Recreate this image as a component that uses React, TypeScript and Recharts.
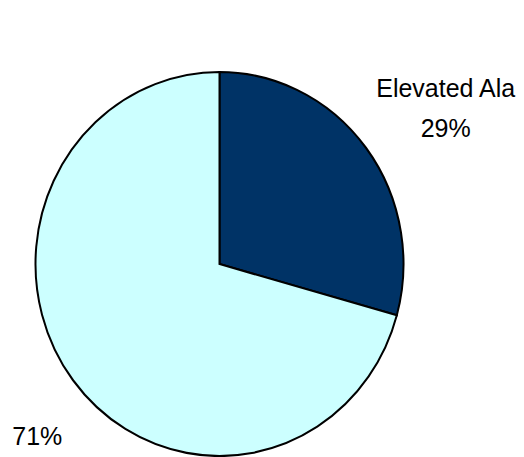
import React from "react";
import { PieChart, Pie, Cell } from "recharts";

const categories = ["Elevated Ala", "Other"];
const values = [29.3, 70.7];
const labelNames = ["Elevated Ala", ""];
const colors = ["#003366", "#CCFFFF"];

const data = categories.map((c, i) => ({ name: c, value: values[i] }));

const RADIAN = Math.PI / 180;
const LABEL_NUDGE = [
  { dx: 32, dy: -12 },
  { dx: 12, dy: 26 },
];

const renderLabel = (props: any) => {
  const { cx, cy, midAngle, outerRadius, percent, index } = props;
  const r = outerRadius + 60;
  const ax = cx + r * Math.cos(-midAngle * RADIAN);
  const ay = cy + r * Math.sin(-midAngle * RADIAN);
  const n = LABEL_NUDGE[index] || { dx: 0, dy: 0 };
  const x = ax + n.dx;
  const y = ay + n.dy;
  const pct = Math.round(percent * 100) + "%";
  const name = labelNames[index];
  return (
    <text
      key={"lbl" + index}
      x={x}
      y={y}
      textAnchor="middle"
      fill="#000"
      fontFamily="Arial, 'Liberation Sans', sans-serif"
      fontSize={25}
    >
      {name ? (
        <>
          <tspan x={x} y={y}>{name}</tspan>
          <tspan x={x} y={y + 37.7}>{pct}</tspan>
        </>
      ) : (
        <tspan x={x} y={y}>{pct}</tspan>
      )}
    </text>
  );
};

export default function App() {
  return (
    <div
      style={{
        position: "absolute",
        left: 0,
        top: 0,
        width: 524,
        height: 457,
        overflow: "hidden",
        background: "#fff",
      }}
    >
      <div
        style={{
          width: 524,
          height: 457,
          transform: "scaleY(1.0435)",
          transformOrigin: "0 264px",
        }}
      >
        <PieChart width={524} height={457} margin={{ top: 0, right: 0, bottom: 0, left: 0 }}>
          <Pie
            data={data}
            dataKey="value"
            nameKey="name"
            cx={219.5}
            cy={264}
            outerRadius={184}
            startAngle={90}
            endAngle={-270}
            stroke="#000"
            strokeWidth={2}
            label={renderLabel}
            labelLine={false}
            isAnimationActive={false}
          >
            {data.map((d, i) => (
              <Cell key={d.name} fill={colors[i]} stroke="#000" strokeWidth={2} />
            ))}
          </Pie>
        </PieChart>
      </div>
    </div>
  );
}
